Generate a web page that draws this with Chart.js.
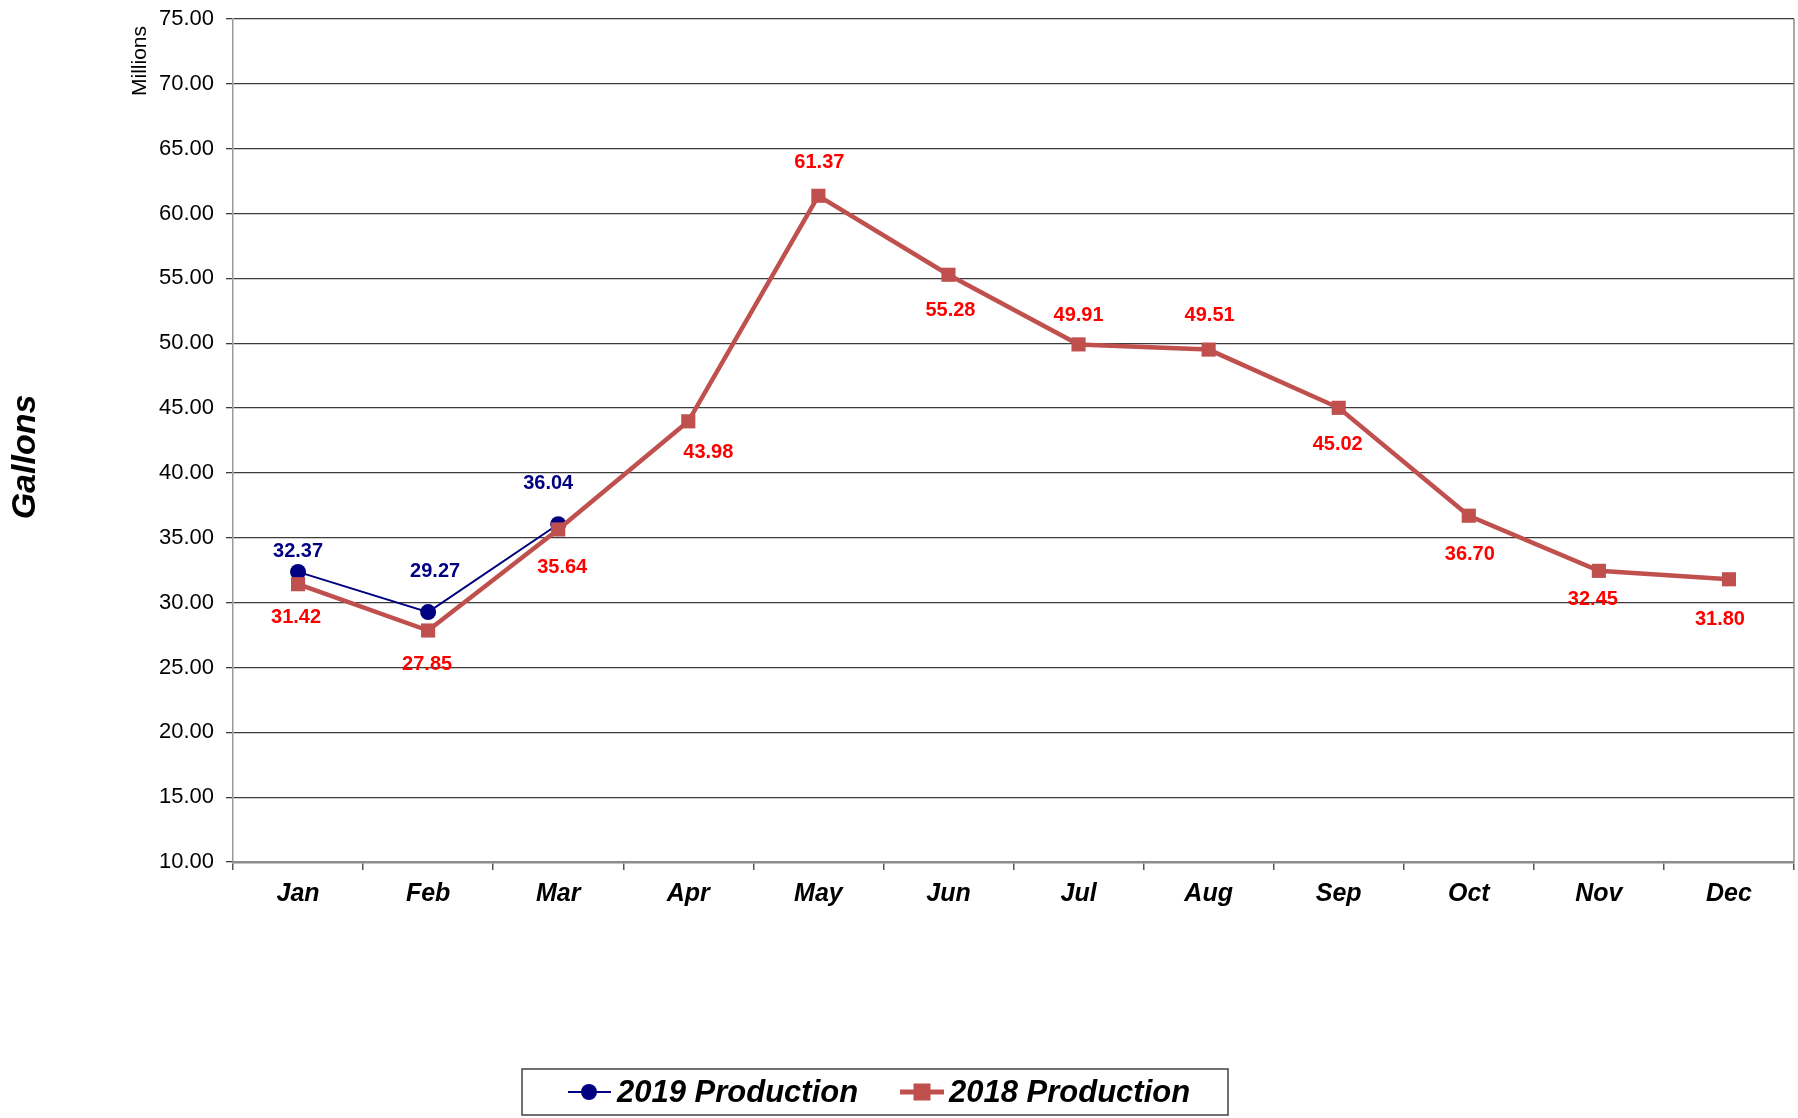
<!DOCTYPE html>
<html>
<head>
<meta charset="utf-8">
<script src="https://cdn.jsdelivr.net/npm/chart.js@4/dist/chart.umd.min.js"></script>
<style>
  html, body { margin: 0; padding: 0; background: #fff; }
  #wrap { width: 1798px; height: 1118px; }
</style>
</head>
<body>
<div id="wrap"><canvas id="prod-chart" width="1798" height="1118"></canvas></div>
<script>
const months = ['Jan', 'Feb', 'Mar', 'Apr', 'May', 'Jun', 'Jul', 'Aug', 'Sep', 'Oct', 'Nov', 'Dec'];
const prod2019 = [32.37, 29.27, 36.04, null, null, null, null, null, null, null, null, null];
const prod2018 = [31.42, 27.85, 35.64, 43.98, 61.37, 55.28, 49.91, 49.51, 45.02, 36.70, 32.45, 31.80];
const yMin = 10, yMax = 75, yStep = 5;

// where each value label sits relative to its point (px)
const labelShift2019 = [[0, -20], [7, -41], [-10, -41]];
const labelShift2018 = [[-2, 33], [-1, 34], [4, 38], [20, 31], [1, -33], [2, 36],
                        [0, -29], [1, -34], [-1, 37], [1, 39], [-6, 29], [-9, 40]];

const NAVY = '#000080';
const BRICK = '#C0504D';
const FONT = '"Liberation Sans", Arial, sans-serif';

const valueLabels = {
  id: 'valueLabels',
  afterDatasetsDraw(chart) {
    const ctx = chart.ctx;
    ctx.save();
    ctx.font = 'bold 20px ' + FONT;
    ctx.textAlign = 'center';
    ctx.textBaseline = 'middle';
    chart.data.datasets.forEach((ds, i) => {
      const meta = chart.getDatasetMeta(i);
      const shifts = i === 0 ? labelShift2019 : labelShift2018;
      ctx.fillStyle = i === 0 ? NAVY : '#FF0000';
      meta.data.forEach((pt, j) => {
        const v = ds.data[j];
        if (v === null || v === undefined) return;
        const s = shifts[j] || [0, -30];
        ctx.fillText(v.toFixed(2), pt.x + s[0], pt.y + s[1]);
      });
    });
    ctx.restore();
  }
};

const extras = {
  id: 'extras',
  afterDraw(chart) {
    const ctx = chart.ctx;
    const area = chart.chartArea;
    ctx.save();
    // right border of plot
    ctx.strokeStyle = '#8c8c8c';
    ctx.lineWidth = 1.5;
    ctx.beginPath();
    ctx.moveTo(area.right, area.top);
    ctx.lineTo(area.right, area.bottom);
    ctx.stroke();

    // axis titles
    ctx.fillStyle = '#000';
    ctx.textAlign = 'center';
    ctx.textBaseline = 'middle';
    ctx.translate(26, 457);
    ctx.rotate(-Math.PI / 2);
    ctx.font = 'bold italic 34px ' + FONT;
    ctx.fillText('Gallons', 0, 0);
    ctx.setTransform(1, 0, 0, 1, 0, 0);
    ctx.translate(140, 61);
    ctx.rotate(-Math.PI / 2);
    ctx.font = '21px ' + FONT;
    ctx.fillText('Millions', 0, 0);
    ctx.setTransform(1, 0, 0, 1, 0, 0);

    // legend
    const lx = 522, ly = 1069, lw = 706, lh = 46, cy = ly + lh / 2;
    ctx.fillStyle = '#fff';
    ctx.fillRect(lx, ly, lw, lh);
    ctx.strokeStyle = '#404040';
    ctx.lineWidth = 1.5;
    ctx.strokeRect(lx, ly, lw, lh);

    ctx.strokeStyle = NAVY;
    ctx.lineWidth = 2;
    ctx.beginPath(); ctx.moveTo(568, cy); ctx.lineTo(611, cy); ctx.stroke();
    ctx.fillStyle = NAVY;
    ctx.beginPath(); ctx.arc(589, cy, 8, 0, Math.PI * 2); ctx.fill();

    ctx.strokeStyle = BRICK;
    ctx.lineWidth = 5;
    ctx.beginPath(); ctx.moveTo(900, cy); ctx.lineTo(944, cy); ctx.stroke();
    ctx.fillStyle = BRICK;
    ctx.fillRect(922 - 8.5, cy - 8.5, 17, 17);

    ctx.fillStyle = '#000';
    ctx.textAlign = 'left';
    ctx.font = 'bold italic 31px ' + FONT;
    ctx.fillText('2019 Production', 617, cy + 1);
    ctx.fillText('2018 Production', 949, cy + 1);
    ctx.restore();
  }
};

new Chart(document.getElementById('prod-chart').getContext('2d'), {
  type: 'line',
  data: {
    labels: months,
    datasets: [
      {
        label: '2019 Production',
        data: prod2019,
        borderColor: NAVY,
        backgroundColor: NAVY,
        borderWidth: 2,
        pointStyle: 'circle',
        pointRadius: 8,
        pointBorderWidth: 0,
        tension: 0,
        order: 1
      },
      {
        label: '2018 Production',
        data: prod2018,
        borderColor: BRICK,
        backgroundColor: BRICK,
        borderWidth: 4.5,
        pointStyle: 'rect',
        pointRadius: 10,
        pointBorderWidth: 0,
        tension: 0,
        order: 0
      }
    ]
  },
  options: {
    responsive: false,
    animation: false,
    events: [],
    layout: { autoPadding: false, padding: { left: 0, top: 19, right: 4, bottom: 0 } },
    plugins: {
      legend: { display: false },
      tooltip: { enabled: false }
    },
    scales: {
      x: {
        offset: true,
        afterFit(scale) {
          scale.height = 256;
          scale.paddingLeft = 0; scale.paddingRight = 0;
        },
        grid: { drawOnChartArea: false, drawTicks: true, tickLength: 8, color: '#555', lineWidth: 1.5, offset: true },
        border: { display: true, color: '#8c8c8c', width: 2.5 },
        ticks: {
          color: '#000',
          padding: 9,
          maxRotation: 0,
          font: { family: FONT, size: 25, weight: 'bold', style: 'italic' }
        }
      },
      y: {
        min: yMin,
        max: yMax,
        afterFit(scale) {
          scale.width = 233;
          scale.paddingTop = 0; scale.paddingBottom = 0;
        },
        grid: { color: '#3c3c3c', lineWidth: 1.3, tickLength: 7, drawTicks: true },
        border: { display: true, color: '#999', width: 1.5 },
        ticks: {
          stepSize: yStep,
          color: '#000',
          padding: 12,
          font: { family: FONT, size: 22 },
          callback: v => v.toFixed(2)
        }
      }
    }
  },
  plugins: [valueLabels, extras]
});
</script>
</body>
</html>
